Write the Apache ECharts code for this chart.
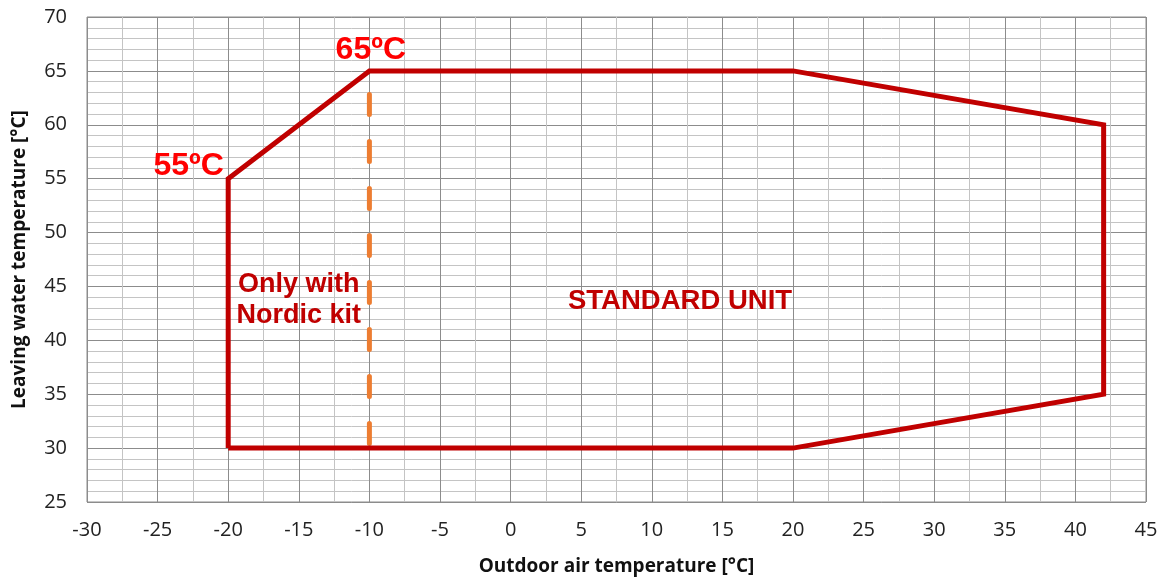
<!DOCTYPE html>
<html><head><meta charset="utf-8">
<script src="https://cdn.jsdelivr.net/npm/echarts@6/dist/echarts.min.js"></script>
<style>html,body{margin:0;padding:0;background:#fff}#c{width:1160px;height:579px}</style>
</head><body><div id="c"></div>
<script>
// Operating envelope (outdoor air temp, leaving water temp)
const envelopeX = [-20, -20, -10, 20, 42, 42, 20, -20];
const envelopeY = [30, 55, 65, 65, 60, 35, 30, 30];
// Nordic kit boundary
const nordicX = [-10, -10];
const nordicY = [62.8, 30];
// Annotations: [x, y, text]
const annotX = [-22.8, -9.9, -15, 12];
const annotY = [56.2, 66.9, 43.75, 43.6];
const annotText = ['55ºC', '65ºC', 'Only with\nNordic kit', 'STANDARD UNIT'];
const xTicks = {min: -30, max: 45, interval: 5};
const yTicks = {min: 25, max: 70, interval: 5};

const chart = echarts.init(document.getElementById('c'));
const zip = (a, b) => a.map((v, i) => [v, b[i]]);
const annotStyles = [
  {color: '#ff0000', fontSize: 32},
  {color: '#ff0000', fontSize: 32},
  {color: '#c00000', fontSize: 27, lineHeight: 31},
  {color: '#c00000', fontSize: 27.5}
];
chart.setOption({
  animation: false,
  grid: {left: 87, right: 14, top: 17, bottom: 77, show: true, borderColor: '#8c8c8c', borderWidth: 1,
         containLabel: false, outerBoundsMode: 'none'},
  xAxis: {
    type: 'value', min: xTicks.min, max: xTicks.max, interval: xTicks.interval,
    name: 'Outdoor air temperature [°C]', nameLocation: 'middle', nameGap: 55,
    nameTextStyle: {fontFamily: 'Open Sans', fontWeight: 'bold', fontSize: 19, color: '#111'},
    axisLine: {show: false}, axisTick: {show: false},
    axisLabel: {fontFamily: 'Open Sans', fontSize: 20, color: '#222', margin: 18},
    splitLine: {lineStyle: {color: '#8c8c8c', width: 1}},
    minorTick: {show: false, splitNumber: 2},
    minorSplitLine: {show: true, lineStyle: {color: '#c4c4c4', width: 1}}
  },
  yAxis: {
    type: 'value', min: yTicks.min, max: yTicks.max, interval: yTicks.interval,
    name: 'Leaving water temperature [°C]', nameLocation: 'middle', nameGap: 58,
    nameTextStyle: {fontFamily: 'Open Sans', fontWeight: 'bold', fontSize: 19, color: '#111'},
    axisLine: {show: false}, axisTick: {show: false},
    axisLabel: {fontFamily: 'Open Sans', fontSize: 20, color: '#222', margin: 20},
    splitLine: {lineStyle: {color: '#8c8c8c', width: 1}},
    minorTick: {show: false, splitNumber: 5},
    minorSplitLine: {show: true, lineStyle: {color: '#c4c4c4', width: 1}}
  },
  series: [
    {
      type: 'line', data: zip(nordicX, nordicY), symbol: 'none',
      lineStyle: {color: '#ed7d31', width: 5, type: [20, 27], cap: 'round'}, z: 3
    },
    {
      type: 'line', data: zip(envelopeX, envelopeY), symbol: 'none',
      lineStyle: {color: '#c00000', width: 5, join: 'miter'}, z: 4
    },
    {
      type: 'scatter', symbolSize: 0, z: 5, itemStyle: {opacity: 1},
      data: annotX.map((x, i) => ({
        value: [x, annotY[i]],
        label: Object.assign({show: true, position: 'inside', formatter: annotText[i],
          fontFamily: 'Liberation Sans', fontWeight: 'bold', opacity: 1}, annotStyles[i])
      }))
    }
  ]
});
</script></body></html>
